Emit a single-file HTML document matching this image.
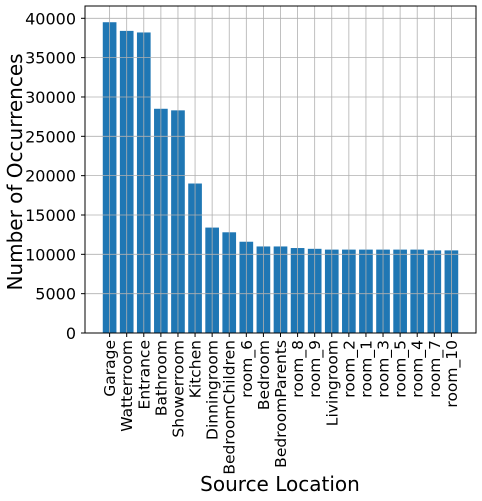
<!DOCTYPE html>
<html><head><meta charset="utf-8"><style>
body{margin:0;background:#fff;}
svg{display:block;font-family:"DejaVu Sans","Liberation Sans",sans-serif;}
</style></head><body>
<svg id="chart" width="482" height="501">
<g id="bars"></g>
<g id="grid"></g>
<rect x="85" y="6" width="391" height="327" fill="none" stroke="#000" stroke-width="1"/>
<g id="yticks"></g>
<g id="xticks"></g>
<text x="22" y="172" font-size="20" text-anchor="middle" transform="rotate(-90 22 172)">Number of Occurrences</text>
<text x="280" y="491" font-size="20" text-anchor="middle">Source Location</text>
</svg>
<script>
const categories=["Garage","Watterroom","Entrance","Bathroom","Showerroom","Kitchen","Dinningroom","BedroomChildren","room_6","Bedroom","BedroomParents","room_8","room_9","Livingroom","room_2","room_1","room_3","room_5","room_4","room_7","room_10"];
const counts=[39500,38400,38200,28500,28300,19000,13400,12800,11600,11000,11000,10800,10700,10600,10600,10600,10600,10600,10600,10500,10500];
const yTicks=[0,5000,10000,15000,20000,25000,30000,35000,40000];
const NS="http://www.w3.org/2000/svg";
const L=85,R=476,T=6,B=333;
const xmin=-1.44,xmax=categories.length-1+1.44;
function xs(i){return L+(i-xmin)/(xmax-xmin)*(R-L);}
function ys(v){return B-v/40000*(B-18.3);}
const unit=(R-L)/(xmax-xmin);
function mk(tag,attrs,parent){const e=document.createElementNS(NS,tag);for(const k in attrs)e.setAttribute(k,attrs[k]);parent.appendChild(e);return e;}
const gb=document.getElementById('bars'),gg=document.getElementById('grid'),gy=document.getElementById('yticks'),gx=document.getElementById('xticks');
counts.forEach((v,i)=>{
 const r=mk('rect',{x:xs(i)-0.4*unit,y:ys(v),width:0.8*unit,height:B-ys(v),fill:'#1f77b4'},gb);
 
 
});
categories.forEach((c,i)=>{
 const x=xs(i);
 const gl=mk('line',{x1:x,x2:x,y1:T,y2:B,stroke:'#b0b0b0','stroke-width':0.8},gg);
 
 
 mk('line',{x1:x,x2:x,y1:B,y2:B+4,stroke:'#000'},gx);
 const t=mk('text',{x:0,y:0,'font-size':15.5,'text-anchor':'end',transform:`translate(${x+5.5},${B+7}) rotate(-90)`},gx);
 t.textContent=c;
 
 
});
yTicks.forEach(v=>{
 const y=ys(v);
 const gl=mk('line',{x1:L,x2:R,y1:y,y2:y,stroke:'#b0b0b0','stroke-width':0.8},gg);
 
 
 mk('line',{x1:L-4,x2:L,y1:y,y2:y,stroke:'#000'},gy);
 const t=mk('text',{x:L-9,y:y+6,'font-size':16,'text-anchor':'end'},gy);
 t.textContent=v;
 
 
});
</script>
</body></html>
